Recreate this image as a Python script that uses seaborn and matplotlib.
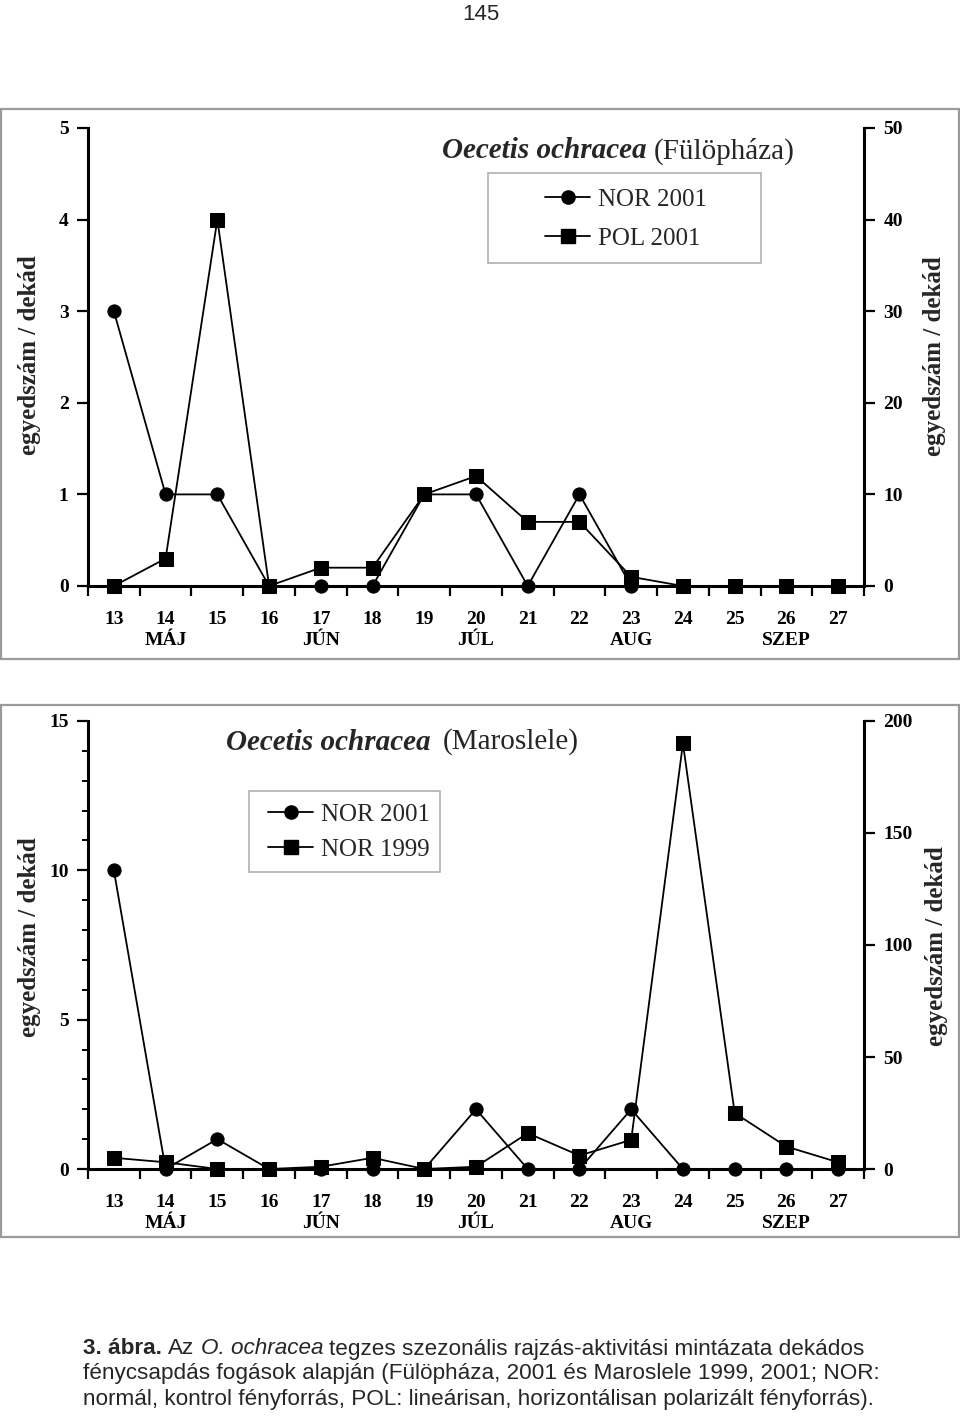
import matplotlib
matplotlib.use('Agg')
import matplotlib.pyplot as plt
import seaborn as sns
import numpy as np
import pandas as pd
from matplotlib.patches import Rectangle
from matplotlib.lines import Line2D

# ---------------- data ----------------
decades = list(range(13, 28))
decade_labels = [str(d) for d in decades]
month_names = {14: 'MÁJ', 17: 'JÚN', 20: 'JÚL', 23: 'AUG', 26: 'SZEP'}

ful_nor2001 = [3, 1, 1, 0, 0, 0, 1, 1, 0, 1, 0, 0, 0, 0, 0]          # left axis 0-5
ful_pol2001 = [0, 3, 40, 0, 2, 2, 10, 12, 7, 7, 1, 0, 0, 0, 0]       # right axis 0-50
mar_nor2001 = [10, 0, 1, 0, 0, 0, 0, 2, 0, 0, 2, 0, 0, 0, 0]         # left axis 0-15
mar_nor1999 = [5, 3, 0, 0, 1, 5, 0, 1, 16, 6, 13, 190, 25, 10, 3]    # right axis 0-200

top_title = ('Oecetis ochracea', '(Fülöpháza)')
bot_title = ('Oecetis ochracea', '(Maroslele)')
top_legend = ['NOR 2001', 'POL 2001']
bot_legend = ['NOR 2001', 'NOR 1999']
ylabel = 'egyedszám / dekád'
page_number = '145'

# ---------------- style ----------------
sns.set_theme(style='white')
plt.rcParams['font.family'] = ['Liberation Serif', 'DejaVu Serif']

W, H = 960, 1416
fig = plt.figure(figsize=(W / 100, H / 100), dpi=100)
fig.patch.set_facecolor('white')
renderer = fig.canvas.get_renderer()

TICK_FS = 14
MS_O = 9.5
MS_S = 10.5
LW = 1.3


def fx(px):
    return px / W


def fy(py):
    return 1 - py / H


def make_labels():
    out = []
    for d in decades:
        if d in month_names:
            out.append(f'{d}\n{month_names[d]}')
        else:
            out.append(str(d))
    return out


def panel(rect, left_vals, right_vals, lmax, lstep, rmax, rstep, lminor=None):
    ax = fig.add_axes(rect)
    df = pd.DataFrame({'dek': decades, 'left': left_vals, 'right': right_vals})
    sns.lineplot(data=df, x='dek', y='left', ax=ax, color='black', marker='o',
                 markersize=MS_O, linewidth=LW, markeredgecolor='black',
                 errorbar=None, legend=False, clip_on=False, zorder=3)
    ax2 = ax.twinx()
    sns.lineplot(data=df, x='dek', y='right', ax=ax2, color='black', marker='s',
                 markersize=MS_S, linewidth=LW, markeredgecolor='black',
                 errorbar=None, legend=False, clip_on=False, zorder=3)
    for a in (ax, ax2):
        a.set_facecolor('none')
        a.set_xlabel('')
        a.set_ylabel('')
        a.set_xlim(12.5, 27.5)
        a.spines['top'].set_visible(False)
        for s in a.spines.values():
            s.set_color('black')
            s.set_linewidth(2.2)
    ax.spines['right'].set_visible(False)
    ax2.spines['left'].set_visible(False)
    ax2.spines['bottom'].set_visible(False)

    ax.set_ylim(0, lmax)
    ax2.set_ylim(0, rmax)

    # x axis
    ax.set_xticks(decades, labels=make_labels(), fontweight='bold',
                  fontsize=TICK_FS)
    for t in ax.get_xticklabels():
        t.set_linespacing(1.3)
    ax.set_xticks(np.arange(12.5, 28.0, 1.0), minor=True)
    ax.tick_params(axis='x', which='major', length=0, pad=18, bottom=True,
                   colors='black')
    ax.tick_params(axis='x', which='minor', length=7, width=1.6,
                   direction='out', bottom=True, color='black')
    # left y axis
    lt = np.arange(0, lmax + 0.001, lstep)
    ax.set_yticks(lt, labels=[str(int(v)) for v in lt], fontweight='bold',
                  fontsize=TICK_FS)
    ax.tick_params(axis='y', which='major', length=8, width=1.6,
                   direction='out', left=True, pad=6, colors='black')
    if lminor is not None:
        ax.set_yticks(np.arange(0, lmax + 0.001, lminor), minor=True)
        ax.tick_params(axis='y', which='minor', length=4, width=1.4,
                       direction='out', left=True, color='black')
    # right y axis
    rt = np.arange(0, rmax + 0.001, rstep)
    ax2.set_yticks(rt, labels=[str(int(v)) for v in rt], fontweight='bold',
                   fontsize=TICK_FS)
    ax2.tick_params(axis='y', which='major', length=8, width=1.6,
                    direction='out', right=True, left=False, pad=6,
                    colors='black')
    ax2.tick_params(axis='x', bottom=False, labelbottom=False)
    return ax, ax2


def legend_box(labels, cx, cy, box, spacing):
    handles = [
        Line2D([], [], color='black', marker='o', markersize=MS_O, lw=LW),
        Line2D([], [], color='black', marker='s', markersize=MS_S, lw=LW),
    ]
    fig.legend(handles, labels, loc='center', bbox_to_anchor=(fx(cx), fy(cy)),
               frameon=False, fontsize=18, handlelength=1.8,
               handletextpad=0.3, labelspacing=spacing, borderpad=0.0)
    x0, y0, x1, y1 = box
    fig.add_artist(Rectangle((fx(x0), fy(y1)), (x1 - x0) / W, (y1 - y0) / H,
                             transform=fig.transFigure, fill=False,
                             edgecolor='#b0b0b0', linewidth=1.2))


def frame(y0, y1):
    fig.add_artist(Rectangle((fx(1), fy(y1)), 958 / W, (y1 - y0) / H,
                             transform=fig.transFigure, fill=False,
                             edgecolor='#9a9a9a', linewidth=1.6))


def title(parts, x0, x1_second, yy):
    fig.text(fx(x0), fy(yy), parts[0], fontsize=21, fontstyle='italic',
             fontweight='bold', ha='left', va='center')
    fig.text(fx(x1_second), fy(yy), parts[1], fontsize=21, ha='right',
             va='center')


# ---------------- frames ----------------
frame(109, 659)
frame(705, 1237)

# ---------------- top panel ----------------
panel([fx(88), fy(586), 776 / W, 458 / H], ful_nor2001, ful_pol2001,
      5, 1, 50, 10)
title(top_title, 442, 795, 151)
legend_box(top_legend, 626, 219, (488, 173, 761, 263), 0.65)
fig.text(fx(30), fy(355), ylabel, rotation=90, ha='center', va='center',
         fontsize=18, fontweight='bold')
fig.text(fx(935), fy(356), ylabel, rotation=90, ha='center', va='center',
         fontsize=18, fontweight='bold')

# ---------------- bottom panel ----------------
panel([fx(88), fy(1169), 776 / W, 448 / H], mar_nor2001, mar_nor1999,
      15, 5, 200, 50, lminor=1)
title(bot_title, 226, 579, 742)
legend_box(bot_legend, 349, 832, (249, 791, 440, 872), 0.5)
fig.text(fx(30), fy(937), ylabel, rotation=90, ha='center', va='center',
         fontsize=18, fontweight='bold')
fig.text(fx(937), fy(946), ylabel, rotation=90, ha='center', va='center',
         fontsize=18, fontweight='bold')

# ---------------- page number ----------------
fig.text(fx(481), fy(14), page_number, ha='center', va='center', fontsize=16,
         family=['Liberation Sans', 'DejaVu Sans'])

# ---------------- caption ----------------
sans = ['Liberation Sans', 'DejaVu Sans']
cap_lines = [
    [('3. ábra.', dict(fontweight='bold')), (' Az ', {}),
     ('O. ochracea', dict(fontstyle='italic')),
     (' tegzes szezonális rajzás-aktivitási mintázata dekádos', {})],
    [('fénycsapdás fogások alapján (Fülöpháza, 2001 és Maroslele 1999, 2001; NOR:', {})],
    [('normál, kontrol fényforrás, POL: lineárisan, horizontálisan polarizált fényforrás).', {})],
]
cap_y = [1349, 1374, 1399]
cap_x0 = 83
probe = fig.text(0, 0, cap_lines[2][0][0], fontsize=15, family=sans)
pw = probe.get_window_extent(renderer).width
probe.remove()
cap_size = 15 * 790 / pw


def measure(s, kw):
    t = fig.text(0, 0, s, fontsize=cap_size, family=sans, **kw)
    w = t.get_window_extent(renderer).width
    t.remove()
    return w


space_w = measure('x x', {}) - measure('xx', {})
for line, yy in zip(cap_lines, cap_y):
    x = cap_x0
    for s, kw in line:
        lead = len(s) - len(s.lstrip(' '))
        trail = len(s) - len(s.rstrip(' '))
        core = s.strip(' ')
        x += lead * space_w
        fig.text(fx(x), fy(yy), core, fontsize=cap_size, family=sans,
                 ha='left', va='center', **kw)
        x += measure(core, kw) + trail * space_w

fig.savefig('out.png', dpi=100, facecolor='white')
